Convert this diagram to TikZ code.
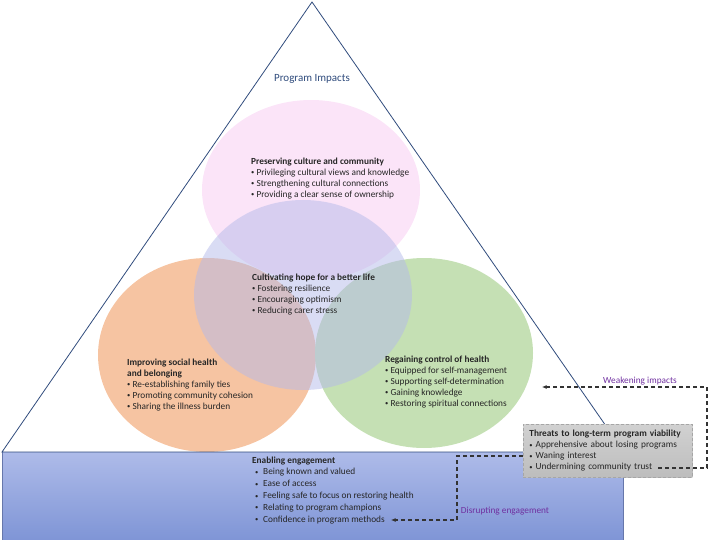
\documentclass[tikz,border=0pt]{standalone}
\usepackage{fontspec}
\setmainfont{Carlito}
\usetikzlibrary{shapes.geometric,arrows.meta}
\definecolor{tri}{HTML}{2F4B7C}
\definecolor{txtc}{HTML}{262626}
\definecolor{purp}{HTML}{7030A0}
\definecolor{pinkc}{HTML}{FBE4F8}
\definecolor{lavc}{HTML}{B4B9EA}
\definecolor{orc}{HTML}{F6C4A2}
\definecolor{grc}{HTML}{C5E0B4}
\definecolor{bluetop}{HTML}{AEBBE9}
\definecolor{bluebot}{HTML}{7F95D6}
\newcommand\sbul{\raisebox{0.4pt}{\scalebox{0.7}{\textbullet}}}
\newcommand\bl{\sbul\ }
\newcommand\bb{\hspace*{3pt}\makebox[8pt][l]{\sbul}}
\tikzset{
  blob/.style={ellipse, draw=none, minimum width=218pt, inner sep=0pt},
  txt/.style={anchor=north west, align=left, inner sep=0pt, text=txtc, font=\fontsize{9.3}{11}\selectfont},
  lbl/.style={text=purp, inner sep=0pt, font=\fontsize{9.3}{11}\selectfont},
  conn/.style={draw=black!80, line width=1.1pt, dash pattern=on 4pt off 3pt, -{Latex[length=4.5pt,width=4pt]}},
}
\begin{document}
\begin{tikzpicture}[x=1pt,y=-1pt]
\useasboundingbox (0,0) rectangle (709,540);
% engagement base
\shade[top color=bluetop, bottom color=bluebot] (2,452) rectangle (623,540);
\draw[draw=bluebot!80!black, line width=0.4pt] (2,540) -- (2,452) (623,452) -- (623,540);
% circles
\node[blob, fill=pinkc, minimum height=180pt] (pink) at (311,190) {};
\node[blob, fill=orc, minimum height=194pt] (orange) at (207,355) {};
\node[blob, fill=grc, minimum height=190pt] (green) at (424,353) {};
\node[blob, fill=lavc, fill opacity=0.5, minimum height=190pt] (lav) at (303,295) {};
% triangle
\coordinate (apex) at (312,2);
\coordinate (bl) at (2,452);
\coordinate (br) at (624,452);
\draw[tri, line width=0.8pt, line join=miter] (br) -- (apex) -- (bl) -- cycle;
\node[text=tri, inner sep=0pt, font=\fontsize{11}{13}\selectfont] (title) at (312,79) {Program Impacts};
% texts
\node[txt] (pres) at (251,157.3) {\textbf{Preserving culture and community}\\
\bl Privileging cultural views and knowledge\\
\bl Strengthening cultural connections\\
\bl Providing a clear sense of ownership};
\node[txt] (hope) at (252,273.3) {\textbf{Cultivating hope for a better life}\\
\bl Fostering resilience\\
\bl Encouraging optimism\\
\bl Reducing carer stress};
\node[txt] (soc) at (127,358.3) {\textbf{Improving social health}\\
\textbf{and belonging}\\
\bl Re-establishing family ties\\
\bl Promoting community cohesion\\
\bl Sharing the illness burden};
\node[txt] (ctrl) at (385,355.3) {\textbf{Regaining control of health}\\
\bl Equipped for self-management\\
\bl Supporting self-determination\\
\bl Gaining knowledge\\
\bl Restoring spiritual connections};
\node[txt, font=\fontsize{9.3}{11.8}\selectfont] (eng) at (252,456.3) {\textbf{Enabling engagement}\\
\bb Being known and valued\\
\bb Ease of access\\
\bb Feeling safe to focus on restoring health\\
\bb Relating to program champions\\
\bb Confidence in program methods};
% threats
\node[anchor=north west, draw=black!35, dash pattern=on 3pt off 2pt, line width=0.8pt,
  top color=black!18, bottom color=black!26,
  minimum width=169pt, minimum height=53pt, text width=157pt, inner xsep=6pt, inner ysep=4pt,
  align=left, text=txtc, font=\fontsize{9.3}{11}\selectfont] (thr) at (523,424)
  {\textbf{Threats to long-term program viability}\\
  \bl Apprehensive about losing programs\\
  \bl Waning interest\\
  \bl Undermining community trust};
% connectors
\coordinate (wS) at (658,468);
\coordinate (wE) at (542,387);
\coordinate (dS) at (thr.west |- 0,456);
\coordinate (dE) at (391,520);
\draw[conn] (wS) -- ++(49,0) |- (wE);
\draw[conn] (dS) -- ++(-66,0) |- (dE);
\node[lbl] (wl) at (640,381) {Weakening impacts};
\node[lbl] (dl) at (505,511) {Disrupting engagement};
\end{tikzpicture}
\end{document}
